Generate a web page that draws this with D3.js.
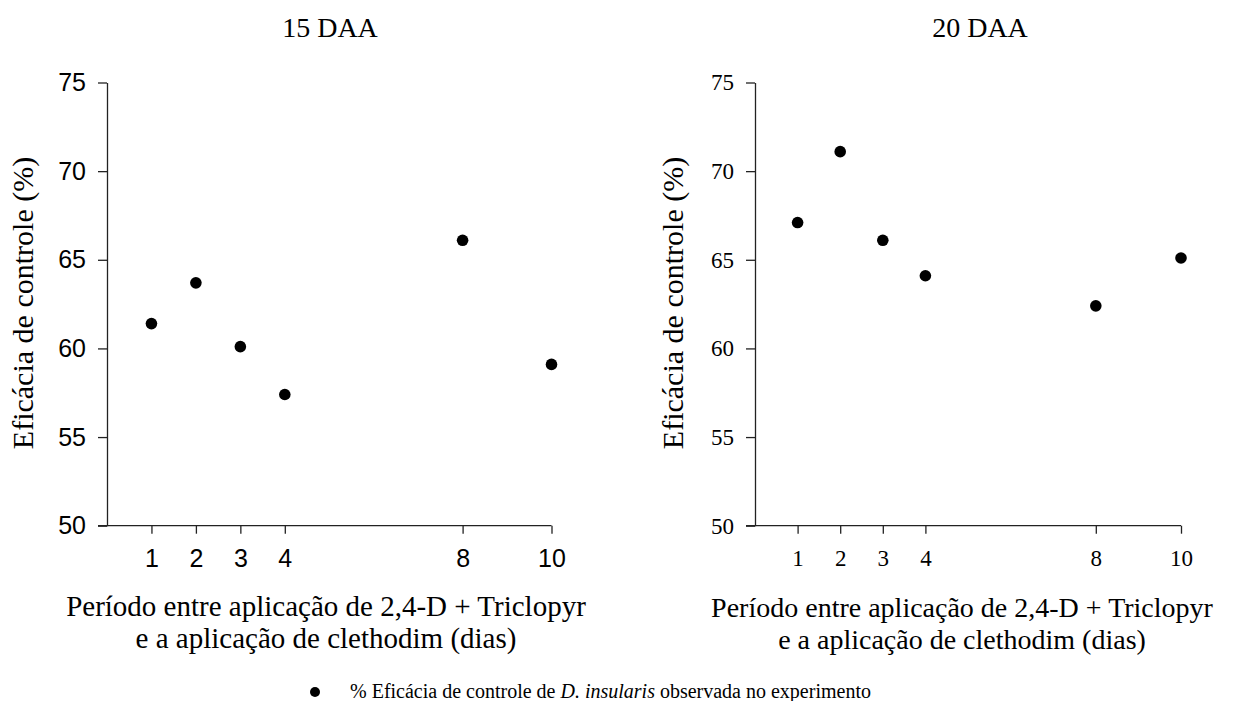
<!DOCTYPE html>
<html>
<head>
<meta charset="utf-8">
<script src="https://cdn.jsdelivr.net/npm/d3@7"></script>
<style>
  html, body { margin: 0; padding: 0; background: #fff; }
  svg { display: block; }
</style>
</head>
<body>
<svg id="chart" width="1244" height="701"></svg>
<script>
// Days between 2,4-D + Triclopyr and clethodim applications
const days = [1, 2, 3, 4, 8, 10];
// Control efficacy (%) of D. insularis at 15 and 20 days after application
const eff15 = [61.4, 63.7, 60.1, 57.4, 66.1, 59.1];
const eff20 = [67.1, 71.1, 66.1, 64.1, 62.4, 65.1];
const yTicks = [50, 55, 60, 65, 70, 75];
const panelTitles = ["15 DAA", "20 DAA"];
const yLabel = "Eficácia de controle (%)";
const xLabelLines = ["Período entre aplicação de 2,4-D + Triclopyr", "e a aplicação de clethodim (dias)"];

const svg = d3.select("#chart");
const serif = "'Liberation Serif', 'Times New Roman', serif";
const sans = "'Liberation Sans', Arial, sans-serif";

const panels = [
  { values: eff15, title: panelTitles[0], x0: 107, x1: 551.5, tickFont: sans, tickSize: 25,
    titleX: 330, ylabX: 33, xlabX: 326, xlabSize: 29, xlabY: [616, 648] },
  { values: eff20, title: panelTitles[1], x0: 755, x1: 1181, tickFont: serif, tickSize: 23,
    titleX: 980, ylabX: 683, xlabX: 962, xlabSize: 28, xlabY: [617, 649] }
];

const yTop = 82.5, yBottom = 525.7;

panels.forEach(p => {
  const x = d3.scaleLinear().domain([0, 10]).range([p.x0, p.x1]);
  const y = d3.scaleLinear().domain([50, 75]).range([yBottom, yTop]);
  const g = svg.append("g");

  // y axis
  const ya = g.append("g")
    .attr("transform", `translate(${p.x0},0)`)
    .call(d3.axisLeft(y).tickValues(yTicks).tickSize(9).tickPadding(12).tickSizeOuter(0));
  ya.select(".domain").attr("stroke", "#222").attr("stroke-width", 1.3);
  ya.selectAll(".tick line").attr("stroke", "#222").attr("stroke-width", 1.3);
  ya.selectAll(".tick text")
    .attr("font-family", p.tickFont).attr("font-size", p.tickSize).attr("fill", "#000");

  // x axis line extends to the left end of the y tick marks
  g.append("line")
    .attr("x1", p.x0 - 9).attr("x2", p.x1)
    .attr("y1", yBottom).attr("y2", yBottom)
    .attr("stroke", "#222").attr("stroke-width", 1.3);
  const xa = g.append("g")
    .attr("transform", `translate(0,${yBottom})`)
    .call(d3.axisBottom(x).tickValues(days).tickFormat(d3.format("d")).tickSize(8).tickPadding(16).tickSizeOuter(0));
  xa.select(".domain").remove();
  xa.selectAll(".tick line").attr("stroke", "#222").attr("stroke-width", 1.3);
  xa.selectAll(".tick text")
    .attr("font-family", p.tickFont).attr("font-size", p.tickSize).attr("fill", "#000");

  // observed points
  g.selectAll("circle.obs")
    .data(days.map((d, i) => ({ d, v: p.values[i] })))
    .join("circle")
    .attr("class", "obs")
    .attr("cx", o => x(o.d))
    .attr("cy", o => y(o.v))
    .attr("r", 5.8)
    .attr("fill", "#000");

  // panel title
  g.append("text")
    .attr("x", p.titleX).attr("y", 37)
    .attr("text-anchor", "middle")
    .attr("font-family", serif).attr("font-size", 28)
    .text(p.title);

  // y label
  g.append("text")
    .attr("transform", `translate(${p.ylabX},303) rotate(-90)`)
    .attr("text-anchor", "middle")
    .attr("font-family", serif).attr("font-size", 30)
    .text(yLabel);

  // x label (two lines)
  xLabelLines.forEach((line, i) => {
    g.append("text")
      .attr("x", p.xlabX).attr("y", p.xlabY[i])
      .attr("text-anchor", "middle")
      .attr("font-family", serif).attr("font-size", p.xlabSize)
      .text(line);
  });
});

// legend
const lg = svg.append("g");
lg.append("circle").attr("cx", 315).attr("cy", 692).attr("r", 5).attr("fill", "#000");
const lt = lg.append("text")
  .attr("x", 350).attr("y", 698)
  .attr("font-family", serif).attr("font-size", 20);
lt.append("tspan").text("% Eficácia de controle de ");
lt.append("tspan").attr("font-style", "italic").text("D. insularis");
lt.append("tspan").text(" observada no experimento");
</script>
</body>
</html>
